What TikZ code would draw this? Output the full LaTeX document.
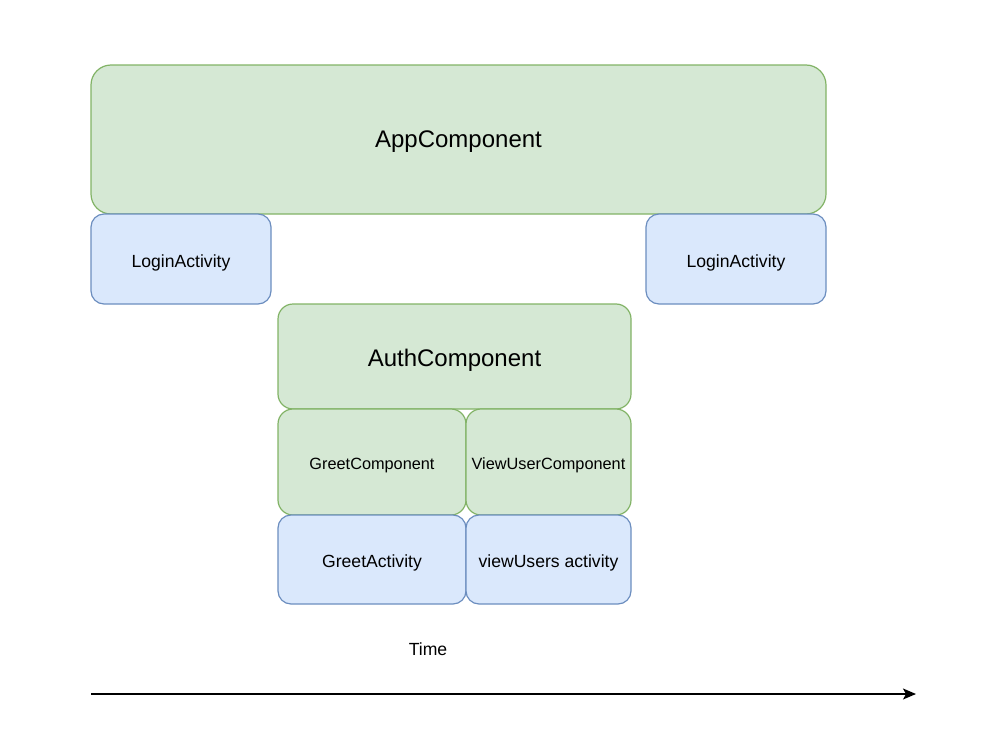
\documentclass[tikz,border=0pt]{standalone}
\usepackage{fontspec}
\setmainfont{Liberation Sans}
\usetikzlibrary{arrows.meta}
\definecolor{gfill}{HTML}{D5E8D4}
\definecolor{gdraw}{HTML}{82B366}
\definecolor{bfill}{HTML}{DAE8FC}
\definecolor{bdraw}{HTML}{6C8EBF}
\newcommand{\lowlbl}[2]{\raisebox{-#1}[0pt][0pt]{#2}}
\tikzset{
  box/.style={rectangle, line width=1.2pt, inner sep=0pt, outer sep=0pt},
  gbox/.style={box, fill=gfill, draw=gdraw},
  bbox/.style={box, fill=bfill, draw=bdraw},
  bigtxt/.style={font=\fontsize{24}{28}\selectfont},
  comptxt/.style={font=\fontsize{16.3}{19}\selectfont},
  acttxt/.style={font=\fontsize{17.6}{20}\selectfont},
}
\begin{document}
\begin{tikzpicture}[x=1pt,y=-1pt]
\useasboundingbox (0,0) rectangle (986,744);
\node[gbox, bigtxt, rounded corners=20pt, minimum width=735pt, minimum height=149pt] (app) at (458.5,139.5) {\lowlbl{8pt}{AppComponent}};
\node[bbox, acttxt, rounded corners=13pt, minimum width=180pt, minimum height=90pt] (login1) at (181,259) {\lowlbl{8.3pt}{LoginActivity}};
\node[bbox, acttxt, rounded corners=13pt, minimum width=180pt, minimum height=90pt] (login2) at (736,259) {\lowlbl{8.3pt}{LoginActivity}};
\node[gbox, bigtxt, rounded corners=15pt, minimum width=353pt, minimum height=105pt] (auth) at (454.5,356.5) {\lowlbl{9.5pt}{AuthComponent}};
\node[gbox, comptxt, rounded corners=15pt, minimum width=188pt, minimum height=106pt] (greet) at (372,462) {\lowlbl{7.3pt}{GreetComponent}};
\node[gbox, comptxt, rounded corners=15pt, minimum width=165pt, minimum height=106pt] (viewuser) at (548.5,462) {\lowlbl{7.3pt}{ViewUserComponent}};
\node[bbox, acttxt, rounded corners=13pt, minimum width=188pt, minimum height=89pt] (greetact) at (372,559.5) {\lowlbl{8.2pt}{GreetActivity}};
\node[bbox, acttxt, rounded corners=13pt, minimum width=165pt, minimum height=89pt] (viewact) at (548.5,559.5) {\lowlbl{8.2pt}{viewUsers activity}};
\node[acttxt, inner sep=0pt] (time) at (428,649) {\lowlbl{6pt}{Time}};
\coordinate (tstart) at (91,694);
\coordinate (tend) at (916,694);
\draw[line width=1.5pt, -{Stealth[length=13pt,width=11pt,inset=3pt]}] (tstart) -- (tend);
\end{tikzpicture}
\end{document}
